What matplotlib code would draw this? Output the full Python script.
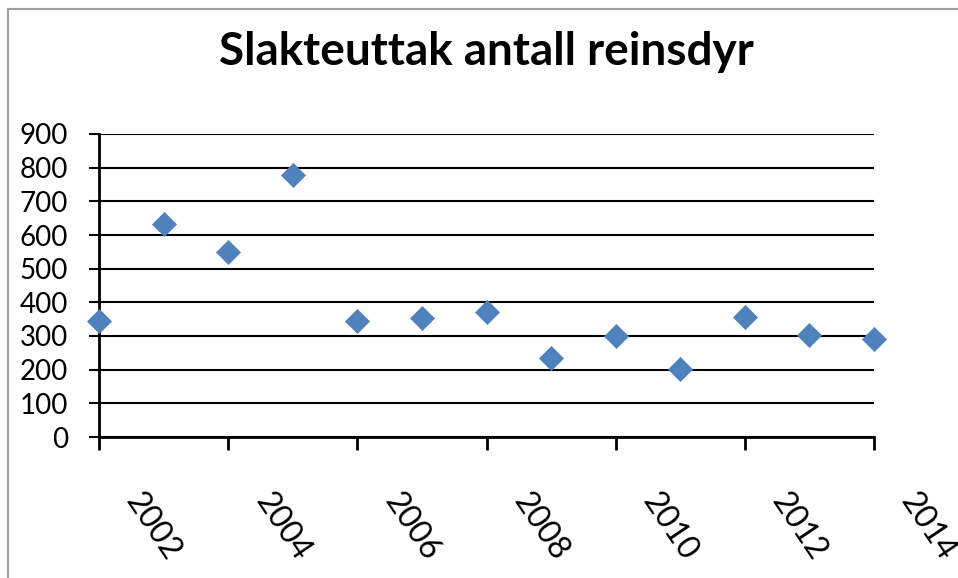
import matplotlib.pyplot as plt
from matplotlib.lines import Line2D
from matplotlib.transforms import ScaledTranslation

years = [2002, 2003, 2004, 2005, 2006, 2007, 2008, 2009, 2010, 2011, 2012, 2013, 2014]
slakt = [345, 632, 550, 779, 345, 352, 372, 235, 300, 203, 357, 304, 290]
xticks = [2002, 2004, 2006, 2008, 2010, 2012, 2014]
yticks = list(range(0, 1000, 100))

plt.rcParams['font.family'] = ['Lato', 'DejaVu Sans']

fig = plt.figure(figsize=(9.58, 5.78), dpi=100)
W, H = 958, 578
ax = fig.add_axes([99 / W, 1 - 437 / H, (874 - 99) / W, (437 - 134) / H])

ax.scatter(years, slakt, marker='D', s=150, color='#4f81bd', edgecolors='#4f81bd',
           linewidths=0.5, zorder=3, clip_on=False)

ax.set_xlim(2002, 2014)
ax.set_ylim(0, 900)
ax.set_xticks(xticks)
ax.set_yticks(yticks)
ax.set_xticklabels([str(x) for x in xticks], rotation=-56, ha='left', va='top',
                   fontsize=23)
ax.set_yticklabels([str(y) for y in yticks], fontsize=20)
ax.yaxis.grid(True, color='black', linewidth=1.5)
ax.set_axisbelow(True)
for side in ['top', 'right']:
    ax.spines[side].set_visible(False)
ax.spines['left'].set_linewidth(2)
ax.spines['bottom'].set_linewidth(2)
ax.tick_params(axis='x', length=9.5, width=2, pad=27)
ax.tick_params(axis='y', length=7.2, width=1.5, pad=15)
off = ScaledTranslation(21 / 100, 0, fig.dpi_scale_trans)
for lbl in ax.get_xticklabels():
    lbl.set_transform(lbl.get_transform() + off)

fig.text(486 / W, 1 - 52 / H, 'Slakteuttak antall reinsdyr', ha='center', va='center',
         fontsize=33, fontweight='bold')

fig.add_artist(Line2D([8 / W, 8 / W], [0, 1 - 9 / H], color='#a0a0a0', linewidth=1.5))
fig.add_artist(Line2D([8 / W, 1], [1 - 9 / H, 1 - 9 / H], color='#a0a0a0', linewidth=1.5))

fig.savefig('out.png', dpi=100)
